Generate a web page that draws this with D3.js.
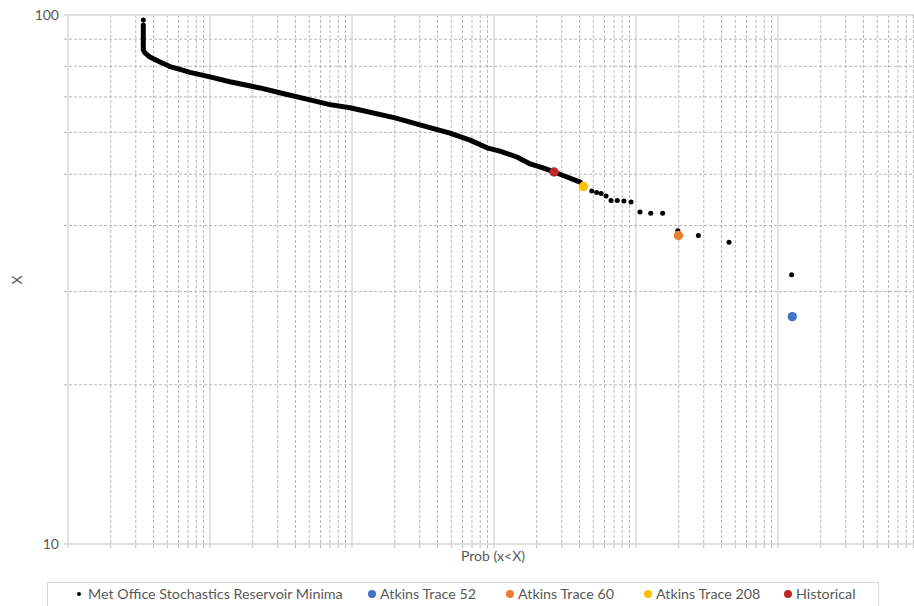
<!DOCTYPE html>
<html>
<head>
<meta charset="utf-8">
<script src="https://cdn.jsdelivr.net/npm/d3@7"></script>
<style>
  body { margin: 0; background: #fff; }
  text { font-family: Lato, "Open Sans", sans-serif; fill: #595959; }
</style>
</head>
<body>
<svg width="914" height="606"></svg>
<script>
// dense part of the stochastic minima (drawn as a packed run of markers)
var curveProb = [3.39e-6, 3.39e-6, 3.39e-6, 3.39e-6, 3.48e-6, 3.77e-6, 4.45e-6, 5.22e-6, 6.15e-6, 7.23e-6,
                 1.0e-5, 1.38e-5, 2.25e-5, 3.37e-5, 5.06e-5, 7.0e-5, 9.68e-5, 2.01e-4, 3.01e-4, 4.90e-4,
                 6.78e-4, 8.93e-4, 1.10e-3, 1.45e-3, 1.80e-3, 2.21e-3, 2.65e-3, 3.27e-3, 4.04e-3];
var curveMin  = [95.7, 93.7, 89.7, 85.9, 84.8, 83.3, 81.5, 79.9, 78.9, 77.9,
                 76.4, 74.8, 72.8, 70.9, 69.1, 67.7, 66.8, 63.9, 62.0, 59.8,
                 58.0, 56.1, 55.3, 53.9, 52.3, 51.4, 50.5, 49.4, 48.3];
// single stochastic points (top and the sparse tail)
var dotProb = [3.39e-6, 4.88e-3, 5.28e-3, 5.68e-3, 6.15e-3, 6.67e-3, 7.38e-3, 8.22e-3, 9.23e-3,
               1.067e-2, 1.27e-2, 1.54e-2, 1.97e-2, 2.75e-2, 4.52e-2, 0.1247];
var dotMin  = [97.8, 46.5, 46.2, 46.0, 45.5, 44.6, 44.6, 44.5, 44.3,
               42.4, 42.2, 42.2, 39.1, 38.3, 37.2, 32.3];

var traceNames  = ["Atkins Trace 52", "Atkins Trace 60", "Atkins Trace 208", "Historical"];
var traceProb   = [0.126, 1.99e-2, 4.26e-3, 2.65e-3];
var traceMin    = [26.9, 38.3, 47.4, 50.5];
var traceColors = ["#4472C4", "#ED7D31", "#FFC000", "#C0282D"];

var yTickValues = [10, 100];
var yTickLabels = ["10", "100"];
var mainName = "Met Office Stochastics Reservoir Minima";

var svg = d3.select("svg"),
    margin = {top: 15, left: 68},
    width = 852,          // six decades, the right edge runs past the picture
    height = 529;

var x = d3.scaleLog().domain([1e-6, 1]).range([0, width]),
    y = d3.scaleLog().domain([10, 100]).range([height, 0]);

var g = svg.append("g")
    .attr("transform", "translate(" + margin.left + "," + margin.top + ")");

var xAll = x.ticks(),
    yAll = y.ticks();
function isMajor(v) { return Math.abs(Math.log10(v) - Math.round(Math.log10(v))) < 1e-9; }

// vertical grid
g.append("g").selectAll("line")
  .data(xAll)
  .enter().append("line")
    .attr("x1", function(d) { return x(d); })
    .attr("x2", function(d) { return x(d); })
    .attr("y1", 0)
    .attr("y2", height + 4)
    .attr("stroke", function(d) { return isMajor(d) ? "#d4d4d4" : "#b8b8b8"; })
    .attr("stroke-width", function(d) { return isMajor(d) ? 1.3 : 1; })
    .attr("stroke-dasharray", function(d) { return isMajor(d) ? null : "3,2"; });

// horizontal grid
g.append("g").selectAll("line")
  .data(yAll)
  .enter().append("line")
    .attr("x1", -4)
    .attr("x2", width)
    .attr("y1", function(d) { return y(d); })
    .attr("y2", function(d) { return y(d); })
    .attr("stroke", function(d) { return isMajor(d) ? "#d4d4d4" : "#b8b8b8"; })
    .attr("stroke-width", function(d) { return isMajor(d) ? 1.3 : 1; })
    .attr("stroke-dasharray", function(d) { return isMajor(d) ? null : "3,2"; });

// y axis labels
g.append("g")
    .call(d3.axisLeft(y).tickValues(yTickValues).tickSize(0).tickPadding(9)
      .tickFormat(function(d, i) { return yTickLabels[i]; }))
    .call(function(a) { a.select(".domain").remove(); })
    .selectAll("text")
      .style("font-size", "14px")
      .attr("fill", "#595959");

// stochastic minima: packed markers read as a thick run
var line = d3.line()
    .x(function(d) { return x(d[0]); })
    .y(function(d) { return y(d[1]); });
var curve = d3.zip(curveProb, curveMin);
g.append("path")
    .datum(curve)
    .attr("fill", "none")
    .attr("stroke", "#000")
    .attr("stroke-width", 5)
    .attr("stroke-linejoin", "round")
    .attr("stroke-linecap", "round")
    .attr("d", line);

g.selectAll(".dot")
  .data(d3.zip(dotProb, dotMin))
  .enter().append("circle")
    .attr("class", "dot")
    .attr("cx", function(d) { return x(d[0]); })
    .attr("cy", function(d) { return y(d[1]); })
    .attr("r", 2.5)
    .attr("fill", "#000");

// traces
g.selectAll(".trace")
  .data(traceNames)
  .enter().append("circle")
    .attr("class", "trace")
    .attr("cx", function(d, i) { return x(traceProb[i]); })
    .attr("cy", function(d, i) { return y(traceMin[i]); })
    .attr("r", 4.7)
    .attr("fill", function(d, i) { return traceColors[i]; });

// axis titles
svg.append("text")
    .attr("x", 493)
    .attr("y", 561)
    .attr("text-anchor", "middle")
    .style("font-size", "14px")
    .text("Prob (x<X)");

svg.append("text")
    .attr("transform", "translate(22,280) rotate(-90)")
    .attr("text-anchor", "middle")
    .style("font-size", "14px")
    .text("X");

// legend
var legend = svg.append("g");
legend.append("rect")
    .attr("x", 47.5).attr("y", 582.5)
    .attr("width", 831).attr("height", 30)
    .attr("fill", "#fff")
    .attr("stroke", "#d9d9d9");

var legX = [372, 510, 648, 788];
legend.append("circle").attr("cx", 79).attr("cy", 594).attr("r", 2).attr("fill", "#000");
legend.append("text").attr("x", 88).attr("y", 599).style("font-size", "14.3px").text(mainName);

var items = legend.selectAll(".item")
  .data(traceNames)
  .enter().append("g")
    .attr("class", "item")
    .attr("transform", function(d, i) { return "translate(" + legX[i] + ",594)"; });
items.append("circle").attr("r", 4).attr("fill", function(d, i) { return traceColors[i]; });
items.append("text").attr("x", 8).attr("y", 5).style("font-size", "14.3px").text(function(d) { return d; });
</script>
</body>
</html>
